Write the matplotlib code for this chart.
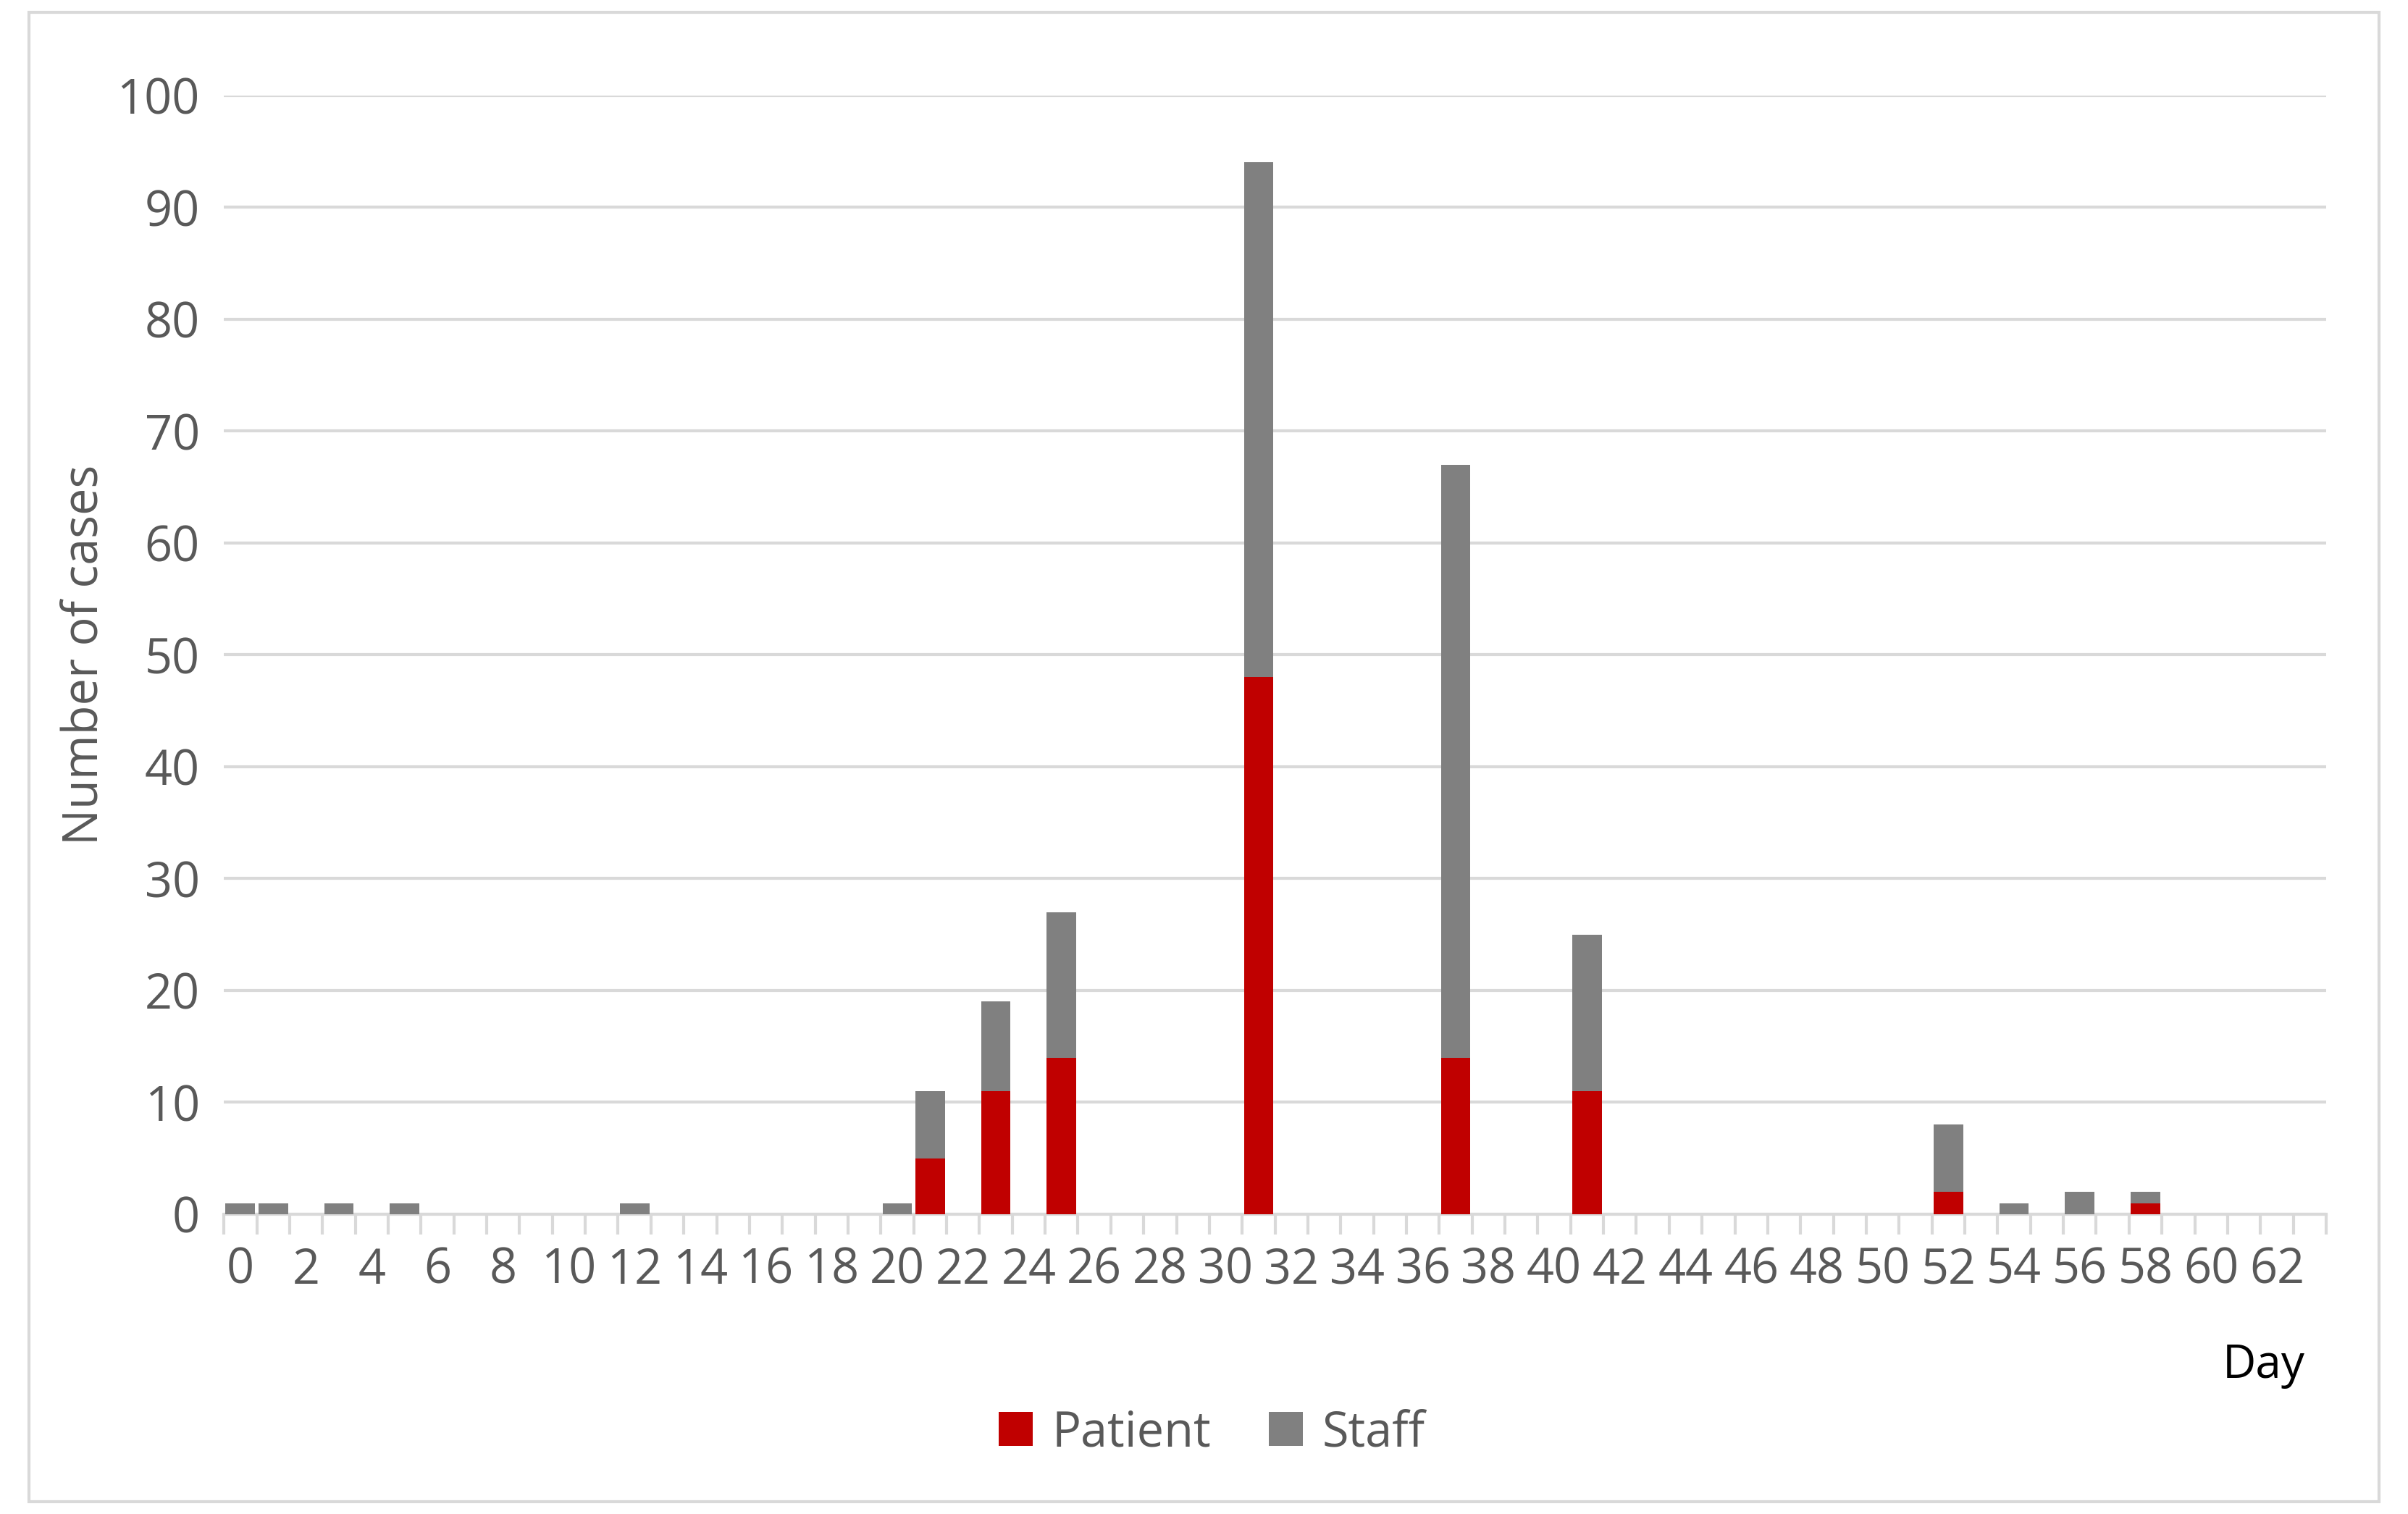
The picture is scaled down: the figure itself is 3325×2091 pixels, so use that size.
import numpy as np
import matplotlib.pyplot as plt
from matplotlib.patches import Rectangle

days = np.arange(64)
patient = np.zeros(64)
staff = np.zeros(64)
patient_vals = {21: 5, 23: 11, 25: 14, 31: 48, 37: 14, 41: 11, 52: 2, 58: 1}
staff_vals = {0: 1, 1: 1, 3: 1, 5: 1, 12: 1, 20: 1, 21: 6, 23: 8, 25: 13,
              31: 46, 37: 53, 41: 14, 52: 6, 54: 1, 56: 2, 58: 1}
for d, v in patient_vals.items():
    patient[d] = v
for d, v in staff_vals.items():
    staff[d] = v

plt.rcParams['font.family'] = ['Open Sans', 'DejaVu Sans']
fig = plt.figure(figsize=(16.625, 10.455), dpi=200)
fig.patches.append(Rectangle((0.012, 0.008), 0.976, 0.984, transform=fig.transFigure,
                             fill=False, edgecolor='#d9d9d9', linewidth=1.5))
ax = fig.add_axes([0.093, 0.198, 0.873, 0.739])

ax.bar(days, patient, width=0.9, color='#c00000', label='Patient', zorder=3)
ax.bar(days, staff, width=0.9, bottom=patient, color='#808080', label='Staff', zorder=3)

ax.set_xlim(-0.5, 63.5)
ax.set_ylim(0, 100)
ax.set_yticks(np.arange(0, 101, 10))
ax.yaxis.grid(True, color='#d9d9d9', linewidth=1.5, zorder=0)
ax.set_xticks(np.arange(0, 64, 2))
ax.set_xticks(np.arange(-0.5, 64, 1), minor=True)
ax.tick_params(axis='x', which='major', length=0, pad=16)
ax.tick_params(axis='x', which='minor', length=10, color='#d9d9d9', width=1.5)
ax.tick_params(axis='y', length=0, pad=12)
ax.tick_params(labelsize=24, labelcolor='#595959')
for s in ['top', 'right', 'left']:
    ax.spines[s].set_visible(False)
ax.spines['bottom'].set_color('#d9d9d9')
ax.spines['bottom'].set_linewidth(1.5)
ax.set_ylabel('Number of cases', fontsize=24, color='#595959', labelpad=4)
ax.text(0.99, -0.135, 'Day', transform=ax.transAxes, fontsize=23, ha='right', va='center')
ax.legend(loc='upper center', bbox_to_anchor=(0.47, -0.135), ncol=2, frameon=False,
          fontsize=24, labelcolor='#595959', handlelength=0.7, handleheight=0.7,
          columnspacing=1.2, handletextpad=0.4)

fig.savefig('out.png', dpi=200)
